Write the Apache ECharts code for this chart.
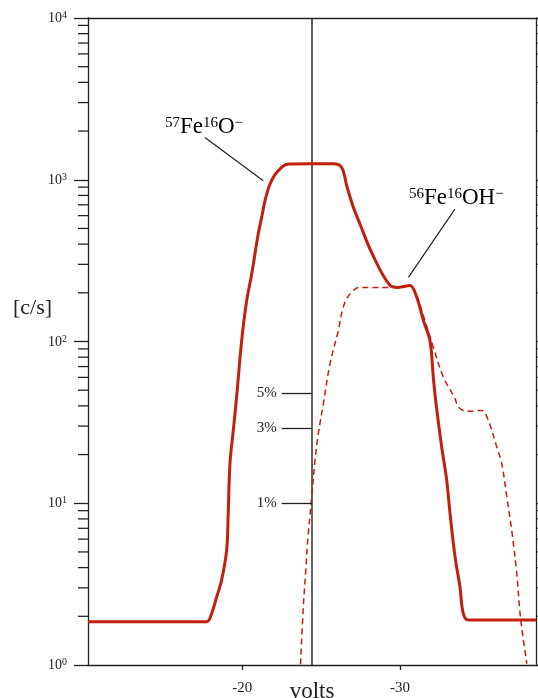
<!DOCTYPE html>
<html>
<head>
<meta charset="utf-8">
<script src="https://cdn.jsdelivr.net/npm/echarts@6/dist/echarts.min.js"></script>
<style>
html,body{margin:0;padding:0;background:#fff;}
#c{width:538px;height:698px;}
</style>
</head>
<body>
<div id="c"></div>
<script>
// ---- data ----
const xMin = -38.62;
const xMax = -10.22;
const xTickValues = [-20, -30];

// 57Fe16O- (solid)
const solidVolts  = [-10.22,-17.74,-18.06,-18.38,-18.69,-19.01,-19.11,-19.22,-19.43,-19.64,-19.96,-20.28,-20.60,-21.01,-21.23,-21.44,-21.76,-22.18,-22.92,-24.29,-25.77,-26.30,-26.62,-27.04,-27.46,-28.20,-29.37,-29.89,-30.63,-31.06,-31.48,-31.90,-32.11,-32.26,-32.64,-32.96,-33.17,-33.49,-33.80,-34.01,-34.33,-38.62];
const solidCounts = [1.85,1.85,2.09,2.64,3.35,5.13,8.68,17.7,28.2,45.3,101,179,262,462,585,742,941,1110,1250,1255,1255,1191,920,675,533,355,222,216,222,188,135,101,60.2,43.2,22.3,13.9,8.64,4.66,3.04,2.08,1.90,1.90];

// 56Fe16OH- (dashed)
const dashVolts  = [-23.69,-23.87,-24.04,-24.15,-24.40,-24.61,-24.82,-25.14,-25.56,-26.09,-26.40,-26.83,-27.46,-29.37,-29.89,-30.63,-31.06,-31.38,-32.11,-32.75,-33.49,-33.70,-34.23,-35.18,-35.60,-36.13,-36.45,-36.77,-37.08,-37.40,-37.61,-37.82,-38.04];
const dashCounts = [1.01,2.29,4.04,5.91,10.9,18.4,26.9,41.3,72.8,117,163,197,216,216,216,222,190,155,92.2,60.2,44.3,39.3,37.0,37.5,32.5,22.3,17.6,10.9,6.81,3.68,2.08,1.43,1.02];

// vertical marker and percentage ticks
const vlineVolts = -24.42;
const pctLabels = ['5%', '3%', '1%'];
const pctCounts = [48, 29, 10];
const pctTickStart = -22.5;

// minor log ticks
const minorTickValues = [2,3,4,5,6,7,8,9,20,30,40,50,60,70,80,90,200,300,400,500,600,700,800,900,2000,3000,4000,5000,6000,7000,8000,9000];

// annotation anchors (data space)
const ann1Text = [-15.10, 2124];
const ann1Line = [[-17.63, 1824], [-21.33, 986]];
const ann2Text = [-30.57, 774];
const ann2Line = [[-33.48, 659], [-30.53, 249]];

// ---- chart ----
const FONT = "'Liberation Serif','DejaVu Serif','Times New Roman',serif";
const INK = '#222';
const RED = '#c41e0c';
const chart = echarts.init(document.getElementById('c'), null, {renderer: 'canvas'});

const pairs = (xs, ys) => xs.map((x, i) => [x, ys[i]]);

const option = {
  animation: false,
  backgroundColor: '#fff',
  grid: {left: 88, right: 2, top: 18, bottom: 33, outerBoundsMode: 'none', containLabel: false},
  xAxis: [{
    type: 'value', min: xMin, max: xMax, inverse: true, position: 'bottom',
    splitLine: {show: false},
    axisLine: {onZero: false, lineStyle: {color: INK, width: 1.3}},
    axisTick: {customValues: xTickValues, length: 5, lineStyle: {color: INK, width: 1.3}},
    axisLabel: {customValues: xTickValues, formatter: v => String(v), fontFamily: FONT, fontSize: 15, color: INK, margin: 16},
    name: 'volts', nameLocation: 'middle', nameGap: 15, nameMoveOverlap: false,
    nameTextStyle: {fontFamily: FONT, fontSize: 23, color: INK}
  }, {
    type: 'value', min: xMin, max: xMax, inverse: true, position: 'top',
    splitLine: {show: false},
    axisLine: {show: true, onZero: false, lineStyle: {color: INK, width: 1.3}},
    axisTick: {show: false}, axisLabel: {show: false}
  }],
  yAxis: [{
    type: 'log', logBase: 10, min: 1, max: 10000, position: 'left',
    splitLine: {show: false},
    axisLine: {show: true, onZero: false, lineStyle: {color: INK, width: 1.3}},
    axisTick: {show: true, length: 14, lineStyle: {color: INK, width: 1.3}},
    axisLabel: {
      margin: 21,
      formatter: v => '{b|10}{s|' + Math.round(Math.log10(v)) + '}',
      rich: {
        b: {fontFamily: FONT, fontSize: 14, color: INK, verticalAlign: 'bottom'},
        s: {fontFamily: FONT, fontSize: 10, color: INK, verticalAlign: 'bottom', padding: [0, 0, 5, 0]}
      }
    }
  }, {
    type: 'log', logBase: 10, min: 1, max: 10000, position: 'right',
    splitLine: {show: false},
    axisLine: {show: true, onZero: false, lineStyle: {color: INK, width: 1.3}},
    axisTick: {show: true, length: 10, lineStyle: {color: INK, width: 1.3}},
    axisLabel: {show: false}
  }],
  series: [
    {
      name: 'minor ticks', type: 'custom', coordinateSystem: 'cartesian2d',
      xAxisIndex: 0, yAxisIndex: 0, clip: false, silent: true, z: 5,
      data: minorTickValues.map(v => [xMax, v]),
      encode: {x: 0, y: 1},
      renderItem: (params, api) => {
        const cs = params.coordSys;
        const y = api.coord([api.value(0), api.value(1)])[1];
        const st = {stroke: INK, lineWidth: 1.3};
        return {type: 'group', children: [
          {type: 'line', shape: {x1: cs.x - 10, y1: y, x2: cs.x, y2: y}, style: st},
          {type: 'line', shape: {x1: cs.x + cs.width, y1: y, x2: cs.x + cs.width + 10, y2: y}, style: st}
        ]};
      }
    },
    {
      name: 'marker', type: 'line', xAxisIndex: 0, yAxisIndex: 0,
      data: [[vlineVolts, 1], [vlineVolts, 10000]],
      showSymbol: false, symbol: 'none', silent: true,
      lineStyle: {color: INK, width: 1.4},
      z: 3,
      markLine: {
        silent: true, symbol: ['none', 'none'], animation: false,
        lineStyle: {color: INK, width: 1.3, type: 'solid'},
        label: {show: true, position: 'start', formatter: '{b}', fontFamily: FONT, fontSize: 15, color: INK, distance: 5},
        emphasis: {disabled: true},
        data: pctLabels.map((lab, i) => [
          {name: lab, coord: [pctTickStart, pctCounts[i]]},
          {coord: [vlineVolts, pctCounts[i]]}
        ]).concat([
          [{coord: ann1Line[0], label: {show: false}, lineStyle: {width: 1.2}}, {coord: ann1Line[1]}],
          [{coord: ann2Line[0], label: {show: false}, lineStyle: {width: 1.2}}, {coord: ann2Line[1]}]
        ])
      }
    },
    {
      name: '57Fe16O-', type: 'line', xAxisIndex: 0, yAxisIndex: 0,
      data: pairs(solidVolts, solidCounts),
      showSymbol: false, symbol: 'none', smooth: 0.35,
      lineStyle: {color: RED, width: 3}, z: 4
    },
    {
      name: '56Fe16OH-', type: 'line', xAxisIndex: 0, yAxisIndex: 0,
      data: pairs(dashVolts, dashCounts),
      showSymbol: false, symbol: 'none', smooth: 0.35,
      lineStyle: {color: RED, width: 1.5, type: [6, 4]}, z: 4
    }
  ]
};
chart.setOption(option);

const p1 = chart.convertToPixel({xAxisIndex: 0, yAxisIndex: 0}, ann1Text);
const p2 = chart.convertToPixel({xAxisIndex: 0, yAxisIndex: 0}, ann2Text);
const annRich = {
  m: {fontFamily: FONT, fontSize: 23, color: INK, verticalAlign: 'bottom'},
  s: {fontFamily: FONT, fontSize: 15, color: INK, verticalAlign: 'bottom', padding: [0, 0, 8, 0]}
};
chart.setOption({
  graphic: [
    {type: 'text', x: p1[0], y: p1[1], silent: true,
     style: {text: '{s|57}{m|Fe}{s|16}{m|O}{s|\u2212}', rich: annRich, align: 'left', verticalAlign: 'middle'}},
    {type: 'text', x: p2[0], y: p2[1], silent: true,
     style: {text: '{s|56}{m|Fe}{s|16}{m|OH}{s|\u2212}', rich: annRich, align: 'left', verticalAlign: 'middle'}},
    {type: 'text', x: 13, y: 308, silent: true,
     style: {text: '[c/s]', fontFamily: FONT, fontSize: 22, fill: INK, align: 'left', verticalAlign: 'middle'}}
  ]
});
</script>
</body>
</html>
